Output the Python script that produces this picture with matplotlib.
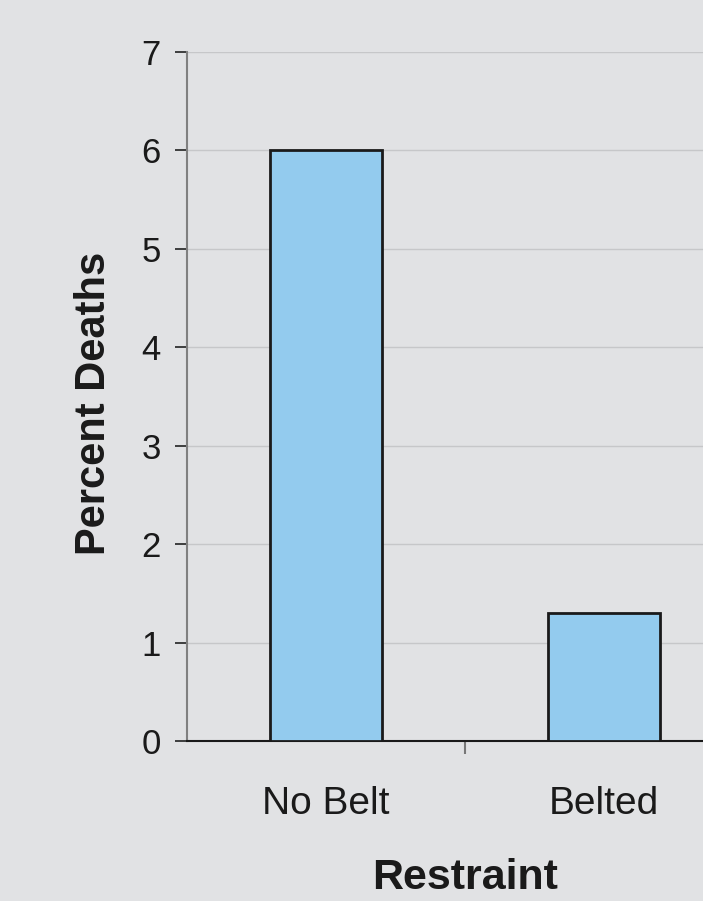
import matplotlib
matplotlib.use("Agg")
import matplotlib.pyplot as plt

# data
categories = ["No Belt", "Belted"]
percent_deaths = [6.0, 1.3]
y_ticks = [0, 1, 2, 3, 4, 5, 6, 7]

plt.rcParams['font.family'] = ['Liberation Sans', 'DejaVu Sans']

bg = "#E1E2E4"
fig = plt.figure(figsize=(7.03, 9.01), dpi=100, facecolor=bg)
# plot area runs past the right edge of the picture (cropped chart)
ax = fig.add_axes([187 / 703, 160 / 901, 1 - 187 / 703, 689 / 901])
ax.set_facecolor(bg)

x = list(range(len(categories)))
ax.bar(x, percent_deaths, width=0.40, color="#93CBEE",
       edgecolor="#1a1a1a", linewidth=2.0, zorder=3)

ax.set_ylim(0, 7)
ax.set_xlim(-0.5, -0.5 + (703 - 187) / 278)
ax.set_yticks(y_ticks)
ax.set_yticklabels([str(v) for v in y_ticks], fontsize=25, color="#1a1a1a")
ax.tick_params(axis="y", length=9, width=1.2, color="#222222", pad=10)
ax.yaxis.grid(True, color="#C6C7C9", linewidth=1.0, zorder=0)

# category boundary tick, labels at category centres
ax.set_xticks([0.5])
ax.set_xticklabels([""])
ax.tick_params(axis="x", length=9, width=1.5, color="#777777")
for xi, lab in zip(x, categories):
    ax.text(xi, -0.64, lab, ha="center", va="center", fontsize=28,
            color="#1a1a1a")

for s in ["top", "right"]:
    ax.spines[s].set_visible(False)
ax.spines["left"].set_color("#808080")
ax.spines["left"].set_linewidth(1.5)
ax.spines["bottom"].set_color("#1a1a1a")
ax.spines["bottom"].set_linewidth(1.5)

fig.text(94 / 703, 1 - 403 / 901, "Percent Deaths", rotation=90,
         ha="center", va="center", fontsize=30, fontweight="bold",
         color="#1a1a1a")
ax.text(0.5, -1.39, "Restraint", ha="center", va="center", fontsize=31,
        fontweight="bold", color="#1a1a1a")

fig.savefig("out.png", dpi=100, facecolor=bg)
